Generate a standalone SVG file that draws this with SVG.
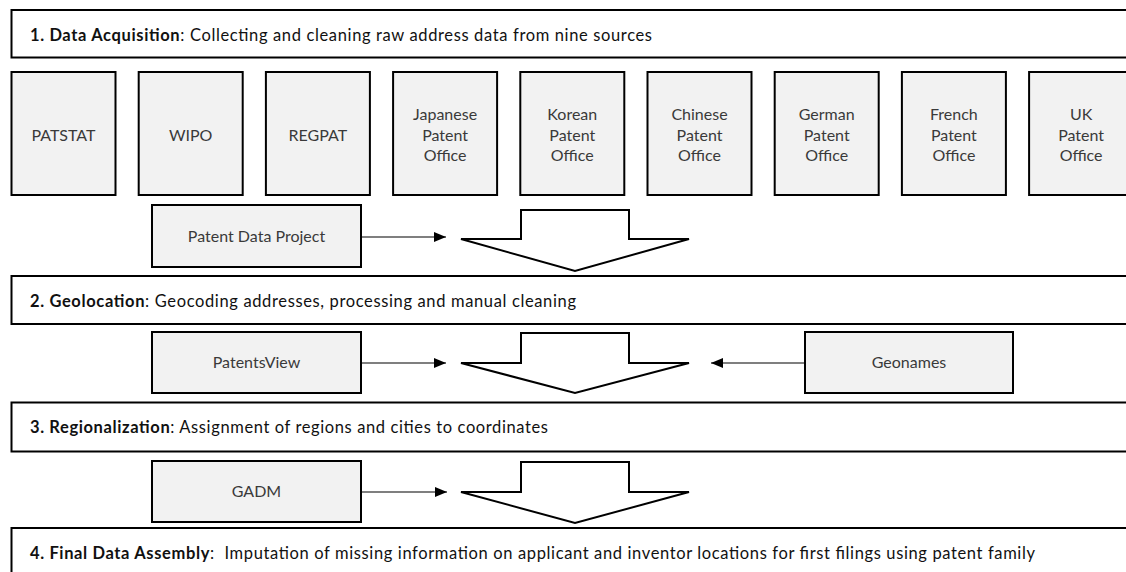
<svg xmlns="http://www.w3.org/2000/svg" width="1126" height="572" viewBox="0 0 1126 572">
<defs>
<style>
.hdr{fill:#fff;stroke:#000;stroke-width:2}
.box{fill:#f2f2f2;stroke:#000;stroke-width:2}
.big{fill:#fff;stroke:#000;stroke-width:2;stroke-linejoin:miter}
.ht{font-family:Lato,"Liberation Sans",sans-serif;font-size:16.5px;fill:#111}
.ht tspan.b{font-weight:bold}
.lb{font-family:Lato,"Liberation Sans",sans-serif;font-size:16px;fill:#3a3a3a;text-anchor:middle}
.con{stroke:#000;stroke-width:1.2;fill:none}
</style>
<marker id="ah" markerUnits="userSpaceOnUse" markerWidth="12" markerHeight="10" refX="12" refY="5" orient="auto">
<path d="M0,0 L12,5 L0,10 Z" fill="#000"/>
</marker>
</defs>
<rect width="1126" height="572" fill="#fff"/>

<g id="stage1">
<rect class="hdr" x="11.5" y="10" width="1130" height="47.5"/>
<text class="ht" x="30" y="41" textLength="622" lengthAdjust="spacing"><tspan class="b">1. Data Acquisition</tspan>: Collecting and cleaning raw address data from nine sources</text>
</g>
<g id="stage2">
<rect class="hdr" x="11.5" y="276" width="1130" height="48"/>
<text class="ht" x="30" y="307" textLength="546" lengthAdjust="spacing"><tspan class="b">2. Geolocation</tspan>: Geocoding addresses, processing and manual cleaning</text>
</g>
<g id="stage3">
<rect class="hdr" x="11.5" y="402.5" width="1130" height="49"/>
<text class="ht" x="30" y="433" textLength="518" lengthAdjust="spacing"><tspan class="b">3. Regionalization</tspan>: Assignment of regions and cities to coordinates</text>
</g>
<g id="stage4">
<rect class="hdr" x="11.5" y="528" width="1130" height="60"/>
<text class="ht" x="30" y="559" textLength="1005" lengthAdjust="spacing" xml:space="preserve"><tspan class="b">4. Final Data Assembly</tspan>:  Imputation of missing information on applicant and inventor locations for first filings using patent family</text>
</g>

<g id="patstat"><rect class="box" x="11.5" y="72" width="104" height="123"/><text class="lb" x="63.5" y="141">PATSTAT</text></g>
<g id="wipo"><rect class="box" x="138.7" y="72" width="104" height="123"/><text class="lb" x="190.7" y="141">WIPO</text></g>
<g id="regpat"><rect class="box" x="265.9" y="72" width="104" height="123"/><text class="lb" x="317.9" y="141">REGPAT</text></g>
<g id="jpo"><rect class="box" x="393.1" y="72" width="104" height="123"/><text class="lb" x="445.1" y="120">Japanese<tspan x="445.1" y="141">Patent</tspan><tspan x="445.1" y="161">Office</tspan></text></g>
<g id="kpo"><rect class="box" x="520.3" y="72" width="104" height="123"/><text class="lb" x="572.3" y="120">Korean<tspan x="572.3" y="141">Patent</tspan><tspan x="572.3" y="161">Office</tspan></text></g>
<g id="cpo"><rect class="box" x="647.5" y="72" width="104" height="123"/><text class="lb" x="699.5" y="120">Chinese<tspan x="699.5" y="141">Patent</tspan><tspan x="699.5" y="161">Office</tspan></text></g>
<g id="gpo"><rect class="box" x="774.7" y="72" width="104" height="123"/><text class="lb" x="826.7" y="120">German<tspan x="826.7" y="141">Patent</tspan><tspan x="826.7" y="161">Office</tspan></text></g>
<g id="fpo"><rect class="box" x="901.9" y="72" width="104" height="123"/><text class="lb" x="953.9" y="120">French<tspan x="953.9" y="141">Patent</tspan><tspan x="953.9" y="161">Office</tspan></text></g>
<g id="ukpo"><rect class="box" x="1029.1" y="72" width="104" height="123"/><text class="lb" x="1081.1" y="120">UK<tspan x="1081.1" y="141">Patent</tspan><tspan x="1081.1" y="161">Office</tspan></text></g>

<g id="pdp"><rect class="box" x="152" y="205" width="209" height="62"/><text class="lb" x="256.5" y="241.5">Patent Data Project</text></g>
<g id="patentsview"><rect class="box" x="152" y="332" width="209" height="61"/><text class="lb" x="256.5" y="368">PatentsView</text></g>
<g id="geonames"><rect class="box" x="805" y="332" width="208" height="61"/><text class="lb" x="909" y="368">Geonames</text></g>
<g id="gadm"><rect class="box" x="152" y="461" width="209" height="61"/><text class="lb" x="256.5" y="497">GADM</text></g>

<g id="flow1"><path class="big" d="M521,210 H629 V239 H689 L575,271 L461,239 H521 Z"/></g>
<g id="flow2"><path class="big" d="M521,333 H629 V363 H689 L575,393 L461,363 H521 Z"/></g>
<g id="flow3"><path class="big" d="M521,462 H629 V492 H689 L575,523 L461,492 H521 Z"/></g>

<g id="connectors">
<line class="con" x1="361" y1="237" x2="446" y2="237" marker-end="url(#ah)"/>
<line class="con" x1="361" y1="363" x2="446" y2="363" marker-end="url(#ah)"/>
<line class="con" x1="805" y1="363" x2="711" y2="363" marker-end="url(#ah)"/>
<line class="con" x1="361" y1="492" x2="447" y2="492" marker-end="url(#ah)"/>
</g>
</svg>
